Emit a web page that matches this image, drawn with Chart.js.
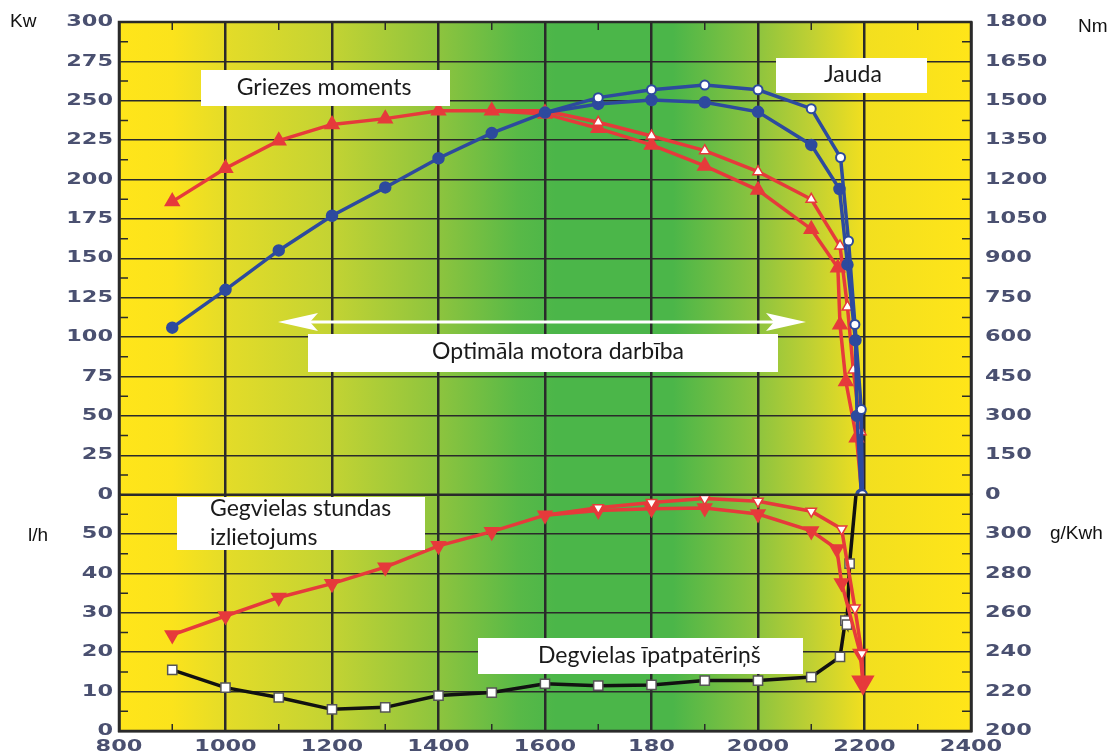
<!DOCTYPE html>
<html>
<head>
<meta charset="utf-8">
<script src="https://cdn.jsdelivr.net/npm/chart.js@4.4.1/dist/chart.umd.min.js"></script>
<style>
  html, body { margin: 0; padding: 0; background: #fff; }
</style>
</head>
<body>
<canvas id="chart" width="1116" height="756"></canvas>
<script>
// x tick labels as printed on the original (the "180" is in the source)
const rpmTickLabels = ['800', '1000', '1200', '1400', '1600', '180', '2000', '2200', '2400'];

// Jauda, kW (filled circles)
const jaudaRpm = [900, 1000, 1100, 1200, 1300, 1400, 1500, 1600, 1700, 1800, 1900, 2000, 2100, 2153, 2168, 2183, 2186, 2194];
const jaudaKw = [106, 130, 155, 177, 195, 213.5, 229.5, 242.5, 248, 250.5, 249, 243, 222, 194, 146, 98, 50, 0];
// Jauda, kW (open circles)
const jauda2Rpm = [1600, 1700, 1800, 1900, 2000, 2100, 2155, 2170, 2182, 2194, 2196];
const jauda2Kw = [242.5, 252, 257, 260, 257, 245, 214, 161, 108, 54, 0];

// Griezes moments, Nm (filled triangles)
const momentsRpm = [900, 1000, 1100, 1200, 1300, 1400, 1500, 1600, 1700, 1800, 1900, 2000, 2100, 2150, 2154, 2165, 2185, 2195];
const momentsNm = [1116, 1243, 1348, 1410, 1432, 1462, 1462, 1450, 1395, 1332, 1252, 1160, 1011, 864, 647, 431, 217, 0];
// Griezes moments, Nm (open triangles)
const moments2Rpm = [1500, 1600, 1700, 1800, 1900, 2000, 2100, 2154, 2168, 2179, 2193, 2196];
const moments2Nm = [1462, 1462, 1418, 1366, 1310, 1230, 1125, 947, 715, 475, 240, 0];

// Degvielas stundas izlietojums, l/h
const stundasRpm = [900, 1000, 1100, 1200, 1300, 1400, 1500, 1600, 1700, 1800, 1900, 2000, 2100, 2148, 2157, 2192, 2197];
const stundasLh = [24.4, 29.2, 33.9, 37.4, 41.6, 47, 50.6, 54.8, 56, 56.4, 56.6, 55.1, 50.8, 46.2, 37.6, 19.7, 12.4];
const stundas2Rpm = [1600, 1700, 1800, 1900, 2000, 2100, 2157, 2182, 2195, 2197];
const stundas2Lh = [54.8, 56.7, 58, 59, 58.3, 55.8, 51.3, 31.2, 19.7, 12.4];

// Degvielas īpatpatēriņš, g/kWh
const ipatRpm = [900, 1000, 1100, 1200, 1300, 1400, 1500, 1600, 1700, 1800, 1900, 2000, 2100, 2154, 2164, 2167, 2172, 2184];
const ipatG = [231, 222, 217, 211, 212, 218, 219.5, 224, 223, 223.4, 225.6, 225.6, 227.4, 237.6, 256, 254, 285, 320];

const pts = (xs, ys) => xs.map((x, i) => ({ x: x, y: ys[i] }));

const BLUE = '#2d4a9e';
const RED = '#e63a3b';
const GRID = '#2a2a2a';
const TICK_COLOR = '#4a5070';

// background colours along the rpm axis
const bandStops = [
    [800, '#ffe51a'], [900, '#fbe31c'], [1000, '#e4dc28'], [1200, '#c3d333'],
    [1400, '#8dc43e'], [1550, '#58b947'], [1620, '#4bb649'], [1840, '#4bb649'],
    [2000, '#8ec43e'], [2100, '#bfd033'], [2200, '#f2df1f'], [2400, '#ffe519']
];

const bgPlugin = {
    id: 'bg',
    beforeDraw(chart) {
        const { ctx, chartArea: a, scales } = chart;
        const x = scales.x;
        const x0 = x.getPixelForValue(800), x1 = x.getPixelForValue(2400);
        const g = ctx.createLinearGradient(x0, 0, x1, 0);
        bandStops.forEach(([v, c]) => g.addColorStop((v - 800) / 1600, c));
        ctx.save();
        ctx.fillStyle = g;
        ctx.fillRect(a.left, a.top, a.right - a.left, a.bottom - a.top);
        ctx.restore();
    }
};

function stretchText(ctx, text, x, y, align) {
    ctx.save();
    ctx.translate(x, y);
    ctx.scale(1.4, 1);
    ctx.textAlign = align;
    ctx.textBaseline = 'middle';
    ctx.fillText(text, 0, 0);
    ctx.restore();
}

// minor tick marks, frame and tick labels
const axisPlugin = {
    id: 'axisDeco',
    afterDatasetsDraw(chart) {
        const { ctx, chartArea: a, scales } = chart;
        ctx.save();
        ctx.strokeStyle = GRID;
        ctx.lineWidth = 1.5;
        // vertical minor ticks (every 100 rpm)
        const xt = scales.x.ticks;
        for (let i = 0; i < xt.length - 1; i++) {
            const px = scales.x.getPixelForValue((xt[i].value + xt[i + 1].value) / 2);
            ctx.beginPath();
            ctx.moveTo(px, a.top); ctx.lineTo(px, a.top + 8);
            ctx.moveTo(px, a.bottom); ctx.lineTo(px, a.bottom - 7);
            ctx.stroke();
        }
        // horizontal minor ticks on both edges
        ['yKw', 'yLh'].forEach(id => {
            const s = scales[id];
            for (let i = 0; i < s.ticks.length - 1; i++) {
                const py = s.getPixelForValue((s.ticks[i].value + s.ticks[i + 1].value) / 2);
                ctx.beginPath();
                ctx.moveTo(a.left, py); ctx.lineTo(a.left + 9, py);
                ctx.moveTo(a.right, py); ctx.lineTo(a.right - 9, py);
                ctx.stroke();
            }
        });
        // frame
        ctx.lineWidth = 2.5;
        ctx.strokeRect(a.left, a.top, a.right - a.left, a.bottom - a.top);
        ctx.beginPath();
        const sep = scales.yKw.getPixelForValue(0);
        ctx.moveTo(a.left, sep); ctx.lineTo(a.right, sep);
        ctx.stroke();
        ctx.restore();
    },
    afterDraw(chart) {
        const { ctx, chartArea: a, scales } = chart;
        ctx.save();
        ctx.fillStyle = TICK_COLOR;
        ctx.font = 'bold 16px "DejaVu Sans"';
        scales.yKw.ticks.forEach(t => stretchText(ctx, String(t.value), a.left - 6, scales.yKw.getPixelForValue(t.value), 'right'));
        scales.yLh.ticks.forEach(t => {
            if (t.value < 60) stretchText(ctx, String(t.value), a.left - 6, scales.yLh.getPixelForValue(t.value), 'right');
        });
        scales.yNm.ticks.forEach(t => stretchText(ctx, String(t.value), a.right + 14, scales.yNm.getPixelForValue(t.value), 'left'));
        scales.yG.ticks.forEach(t => {
            if (t.value < 320) stretchText(ctx, String(t.value), a.right + 14, scales.yG.getPixelForValue(t.value), 'left');
        });
        scales.x.ticks.forEach((t, i) => stretchText(ctx, rpmTickLabels[i], scales.x.getPixelForValue(t.value), a.bottom + 16, 'center'));

        // unit labels
        ctx.fillStyle = '#111';
        ctx.font = '19px "Liberation Sans"';
        ctx.textBaseline = 'middle';
        ctx.textAlign = 'left';
        ctx.fillText('Kw', 10, scales.yKw.getPixelForValue(300));
        ctx.fillText('l/h', 28, scales.yLh.getPixelForValue(50) + 2);
        ctx.fillText('Nm', 1078, scales.yNm.getPixelForValue(1800) + 5);
        ctx.fillText('g/Kwh', 1050, scales.yG.getPixelForValue(300));
        ctx.restore();
    }
};

// white label boxes and the double arrow
const notesPlugin = {
    id: 'notes',
    afterDatasetsDraw(chart) {
        const ctx = chart.ctx;
        ctx.save();
        // arrow
        ctx.strokeStyle = '#ffffff';
        ctx.fillStyle = '#ffffff';
        ctx.lineWidth = 3;
        ctx.beginPath();
        ctx.moveTo(292, 322); ctx.lineTo(794, 322);
        ctx.stroke();
        ctx.beginPath();
        ctx.moveTo(278, 322); ctx.lineTo(318, 313); ctx.lineTo(310, 322); ctx.lineTo(318, 331); ctx.closePath();
        ctx.moveTo(806, 322); ctx.lineTo(766, 313); ctx.lineTo(774, 322); ctx.lineTo(766, 331); ctx.closePath();
        ctx.fill();

        const boxes = [
            [201, 70, 249, 36], [776, 58, 151, 35], [308, 334, 470, 38],
            [177, 497, 248, 53], [478, 638, 325, 36]
        ];
        boxes.forEach(b => ctx.fillRect(b[0], b[1], b[2], b[3]));

        ctx.fillStyle = '#1a1a1a';
        ctx.font = '23px Lato';
        ctx.textBaseline = 'middle';
        ctx.textAlign = 'center';
        ctx.fillText('Griezes moments', 324, 88);
        ctx.fillText('Jauda', 853, 75);
        ctx.fillText('Optimāla motora darbība', 558, 352);
        ctx.textAlign = 'left';
        ctx.fillText('Gegvielas stundas', 210, 509);
        ctx.fillText('izlietojums', 210, 538);
        ctx.fillText('Degvielas īpatpatēriņš', 538, 656);
        ctx.restore();
    }
};

new Chart(document.getElementById('chart'), {
    type: 'line',
    data: {
        datasets: [
            {
                data: pts(jauda2Rpm, jauda2Kw), yAxisID: 'yKw',
                borderColor: BLUE, borderWidth: 3.5,
                pointStyle: 'circle', pointRadius: ctx => ctx.dataIndex === 0 ? 0 : 4.5,
                pointBackgroundColor: '#ffffff', pointBorderColor: BLUE, pointBorderWidth: 2
            },
            {
                data: pts(jaudaRpm, jaudaKw), yAxisID: 'yKw',
                borderColor: BLUE, borderWidth: 3.5,
                pointStyle: 'circle', pointRadius: 4.5,
                pointBackgroundColor: BLUE, pointBorderColor: BLUE
            },
            {
                data: pts(moments2Rpm, moments2Nm), yAxisID: 'yNm',
                borderColor: RED, borderWidth: 3.5,
                pointStyle: 'triangle', pointRadius: ctx => ctx.dataIndex === 0 ? 0 : 6,
                pointBackgroundColor: '#ffffff', pointBorderColor: RED, pointBorderWidth: 1.5
            },
            {
                data: pts(momentsRpm, momentsNm), yAxisID: 'yNm',
                borderColor: RED, borderWidth: 3.5,
                pointStyle: 'triangle', pointRadius: 6,
                pointBackgroundColor: RED, pointBorderColor: RED
            },
            {
                data: pts(stundas2Rpm, stundas2Lh), yAxisID: 'yLh',
                borderColor: RED, borderWidth: 3.5,
                pointStyle: 'triangle', pointRotation: 180,
                pointRadius: ctx => (ctx.dataIndex === 0 || ctx.dataIndex === stundas2Rpm.length - 1) ? 0 : 6,
                pointBackgroundColor: '#ffffff', pointBorderColor: RED, pointBorderWidth: 1.5
            },
            {
                data: pts(stundasRpm, stundasLh), yAxisID: 'yLh',
                borderColor: RED, borderWidth: 3.5,
                pointStyle: 'triangle', pointRotation: 180,
                pointRadius: ctx => ctx.dataIndex === stundasRpm.length - 1 ? 10 : 6,
                pointBackgroundColor: RED, pointBorderColor: RED
            },
            {
                data: pts(ipatRpm, ipatG), yAxisID: 'yG',
                borderColor: '#111111', borderWidth: 3.5,
                pointStyle: 'rect',
                pointRadius: ctx => ctx.dataIndex === ipatRpm.length - 1 ? 0 : 6.5,
                pointBackgroundColor: '#ffffff', pointBorderColor: '#555555', pointBorderWidth: 1.5
            }
        ]
    },
    options: {
        responsive: false,
        animation: false,
        devicePixelRatio: 1,
        layout: { padding: { top: 22, left: 0, right: 0, bottom: 0 } },
        plugins: { legend: { display: false }, tooltip: { enabled: false } },
        elements: { line: { tension: 0 } },
        scales: {
            x: {
                type: 'linear', min: 800, max: 2400,
                ticks: { stepSize: 200, display: false },
                grid: { color: GRID, lineWidth: 2.5, drawTicks: false },
                border: { color: GRID, width: 2.5 },
                afterFit: s => { s.height = 25; }
            },
            yKw: {
                type: 'linear', position: 'left', stack: 'left', stackWeight: 2, weight: 2,
                min: 0, max: 300,
                ticks: { stepSize: 25, display: false },
                grid: { color: GRID, lineWidth: 1.5, drawTicks: false },
                border: { color: GRID, width: 2.5 },
                afterFit: s => { s.width = 119; }
            },
            yLh: {
                type: 'linear', position: 'left', stack: 'left', stackWeight: 1, weight: 1,
                min: 0, max: 60,
                ticks: { stepSize: 10, display: false },
                grid: { color: GRID, lineWidth: 1.5, drawTicks: false },
                border: { color: GRID, width: 2.5 },
                afterFit: s => { s.width = 119; }
            },
            yNm: {
                type: 'linear', position: 'right', stack: 'right', stackWeight: 2, weight: 1,
                min: 0, max: 1800,
                ticks: { stepSize: 150, display: false },
                grid: { display: false, drawTicks: false },
                border: { color: GRID, width: 2.5 },
                afterFit: s => { s.width = 145; }
            },
            yG: {
                type: 'linear', position: 'right', stack: 'right', stackWeight: 1, weight: 2,
                min: 200, max: 320,
                ticks: { stepSize: 20, display: false },
                grid: { display: false, drawTicks: false },
                border: { color: GRID, width: 2.5 },
                afterFit: s => { s.width = 145; }
            }
        }
    },
    plugins: [bgPlugin, notesPlugin, axisPlugin]
});
</script>
</body>
</html>
